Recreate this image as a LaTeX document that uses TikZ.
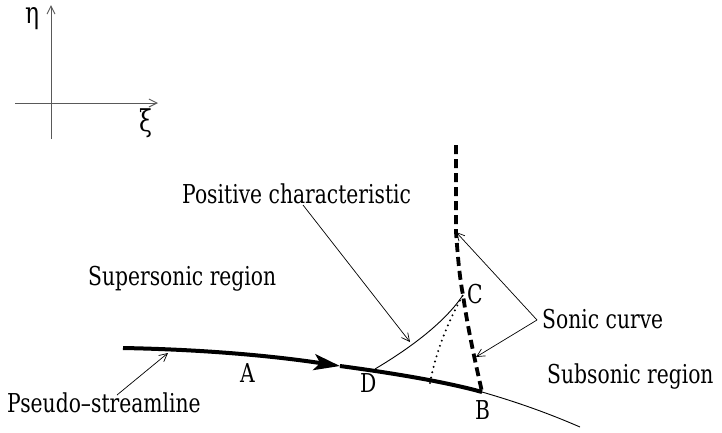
\documentclass[tikz,border=0pt]{standalone}
\usepackage{fontspec}
\setmainfont{DejaVu Serif}[FakeStretch=0.78]
\usetikzlibrary{arrows.meta}

\begin{document}
\begin{tikzpicture}[x=1pt,y=-1pt,>={Straight Barb[length=8pt,width=8pt]},
lbl/.style={inner sep=0pt,anchor=base west,font=\fontsize{26}{30}\selectfont},
greek/.style={inner sep=0pt,anchor=base west,text height=0.5em,font=\fontsize{30}{34}\selectfont},
leader/.style={->,line width=0.7pt},
thick/.style={line width=4pt},
sonic/.style={line width=3.8pt,dash pattern=on 9pt off 5pt}]
\useasboundingbox(0,0)rectangle(722,432);
% axes
\draw[gray!70!black,line width=1pt,->](51,139)--(51,5);
\draw[gray!70!black,line width=1pt,->](15,103)--(158,103);
\node[greek](eta)at(25,23){η};
\node[greek](xi)at(139,131){ξ};
% points
\coordinate(S0)at(123,348);
\coordinate(Stip)at(340,366);
\coordinate(D)at(375,369);
\coordinate(B)at(482,392);
\coordinate(Send)at(580,427);
\coordinate(C)at(463,295);
\coordinate(Ctop)at(456,145);
\coordinate(Sknee)at(456,232);
\coordinate(Q)at(430,383);
% streamline
\draw[thick,-{Stealth[length=26pt,width=16pt,inset=6pt]}](S0)..controls(230,350)and(300,360)..(Stip);
\draw[thick](Stip)..controls(400,374)and(450,383)..(B);
\draw[line width=0.9pt](B)..controls(520,403)and(550,414)..(Send);
% sonic curve
\draw[sonic](Ctop)--(Sknee)..controls(458,260)and(460,280)..(C)..controls(468,330)and(476,365)..(B);
% characteristics
\draw[line width=0.9pt](D)..controls(390,360)and(440,330)..(C);
\draw[line width=2.2pt,line cap=round,dash pattern=on 0pt off 5.5pt](Q)..controls(436,350)and(450,318)..(C);
% labels
\node[lbl](pc)at(182,203){Positive characteristic};
\node[lbl](sup)at(88,285){Supersonic region};
\node[lbl](sc)at(542,328){Sonic curve};
\node[lbl](sub)at(547,383){Subsonic region};
\node[lbl](ps)at(7,412){Pseudo–streamline};
\node[lbl](A)at(240,382){A};
\node[lbl](Dl)at(360,392){D};
\node[lbl](Cl)at(467,303){C};
\node[lbl](Bl)at(475,419){B};
% leaders
\coordinate(pcfoot)at(303,205);
\coordinate(pctip)at(410,342);
\coordinate(scv)at(537,320);
\coordinate(sctip)at(476,357);
\coordinate(psfoot)at(117,395);
\coordinate(pstip)at(168,353);
\draw[leader](pcfoot)--(pctip);
\draw[leader](scv)--(Sknee);
\draw[leader](scv)--(sctip);
\draw[leader](psfoot)--(pstip);
\end{tikzpicture}
\end{document}
